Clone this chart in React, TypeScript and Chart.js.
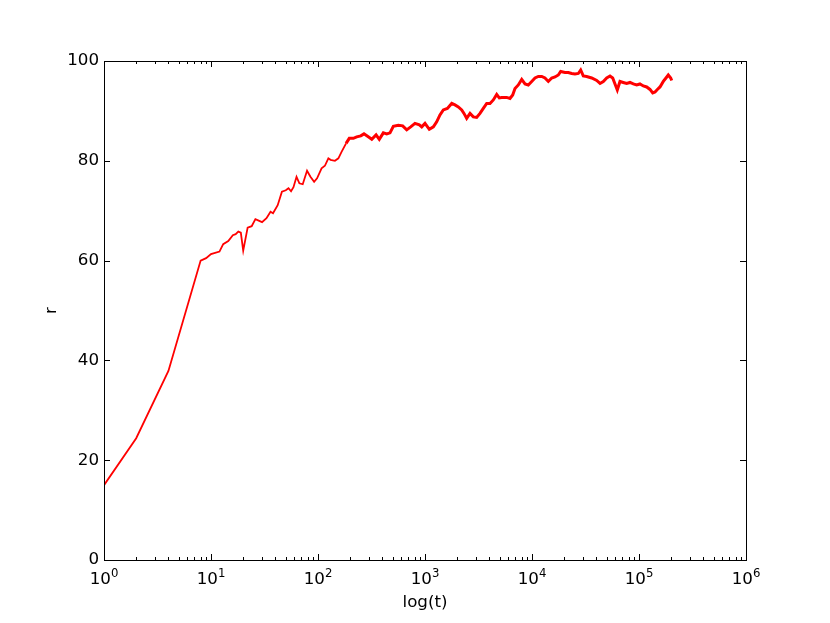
import { useEffect, useRef } from 'react';
import { Chart, registerables } from 'chart.js';

Chart.register(...registerables);

const times: number[] = [
  1, 2, 4, 8, 9, 10, 12, 13, 14.5, 16, 17, 18, 19, 20, 22, 24, 26, 30, 33, 36, 38, 42, 46, 50, 53, 56, 59, 63,
  67, 72, 79, 85, 92, 98, 108, 116, 125, 131, 144, 155, 166, 183, 196, 214, 230, 251, 269, 295, 318, 349, 374,
  408, 439, 471, 506, 563, 619, 675, 735, 806, 885, 932, 1000, 1097, 1197, 1286, 1380, 1483, 1618, 1778, 1906,
  2048, 2203, 2314, 2452, 2634, 2828, 3040, 3265, 3507, 3773, 4050, 4350, 4677, 4945, 5207, 5802, 6226, 6601,
  6935, 7449, 8015, 8605, 9233, 9937, 10670, 11460, 12330, 13220, 14200, 15280, 16410, 17620, 18540, 20340,
  21840, 23490, 25220, 27090, 28510, 30150, 32430, 36120, 40260, 43240, 46380, 49900, 53580, 56780, 59660,
  62690, 66410, 71290, 76690, 82350, 88470, 95110, 102100, 109700, 118000, 126700, 134300, 141200, 148400,
  157100, 168700, 178700, 187800, 197800, 202300,
];

const rValues: number[] = [
  15.0, 24.4, 37.9, 60.0, 60.5, 61.3, 61.8, 63.3, 63.9, 65.1, 65.3, 65.8, 65.6, 62.0, 66.6, 66.9, 68.3, 67.7,
  68.5, 69.8, 69.5, 71.1, 73.8, 74.1, 74.5, 73.9, 74.7, 76.8, 75.5, 75.3, 78.0, 76.8, 75.8, 76.5, 78.5, 79.0,
  80.5, 80.2, 80.0, 80.5, 81.8, 83.5, 84.5, 84.5, 84.8, 85.0, 85.4, 84.8, 84.3, 85.2, 84.3, 85.6, 85.4, 85.6,
  86.9, 87.1, 87.0, 86.2, 86.8, 87.5, 87.2, 86.8, 87.5, 86.3, 86.8, 87.8, 89.2, 90.2, 90.5, 91.5, 91.2, 90.8,
  90.2, 89.5, 88.5, 89.5, 88.8, 88.7, 89.5, 90.5, 91.5, 91.5, 92.2, 93.3, 92.6, 92.7, 92.7, 92.5, 93.2, 94.5,
  95.2, 96.3, 95.4, 95.2, 95.9, 96.6, 96.9, 96.9, 96.6, 95.9, 96.6, 96.8, 97.2, 97.9, 97.7, 97.7, 97.5, 97.4,
  97.5, 98.2, 97.0, 96.9, 96.6, 96.1, 95.5, 95.9, 96.6, 97.0, 96.6, 95.4, 94.2, 95.9, 95.7, 95.5, 95.7, 95.4,
  95.2, 95.4, 95.0, 94.8, 94.3, 93.6, 93.8, 94.3, 94.8, 95.9, 96.6, 97.2, 96.6, 96.1,
];

const yTicks: number[] = [0, 20, 40, 60, 80, 100];
const xDecades: number[] = [0, 1, 2, 3, 4, 5, 6];
const xTitle = 'log(t)';
const yTitle = 'r';

const FONT = 'DejaVu Sans';
const FS = 16.7;

const frameAndTicks = {
  id: 'frameAndTicks',
  afterDatasetsDraw(chart: any) {
    const { ctx, chartArea } = chart;
    const xs = chart.scales.x;
    const ys = chart.scales.y;
    const { left, right, top, bottom } = chartArea;
    ctx.save();
    ctx.strokeStyle = '#000';
    ctx.lineWidth = 1;
    ctx.beginPath();
    const major = 6;
    const minor = 3;
    xDecades.forEach((d) => {
      const px = Math.round(xs.getPixelForValue(Math.pow(10, d))) + 0.5;
      ctx.moveTo(px, bottom);
      ctx.lineTo(px, bottom - major);
      ctx.moveTo(px, top);
      ctx.lineTo(px, top + major);
      if (d < 6) {
        for (let m = 2; m <= 9; m++) {
          const mx = Math.round(xs.getPixelForValue(m * Math.pow(10, d))) + 0.5;
          ctx.moveTo(mx, bottom);
          ctx.lineTo(mx, bottom - minor);
          ctx.moveTo(mx, top);
          ctx.lineTo(mx, top + minor);
        }
      }
    });
    yTicks.forEach((v) => {
      const py = Math.round(ys.getPixelForValue(v)) + 0.5;
      ctx.moveTo(left, py);
      ctx.lineTo(left + major, py);
      ctx.moveTo(right, py);
      ctx.lineTo(right - major, py);
    });
    ctx.stroke();
    ctx.strokeRect(Math.round(left) + 0.5, Math.round(top) + 0.5, Math.round(right - left), Math.round(bottom - top));

    // x tick labels 10^n
    ctx.fillStyle = '#000';
    ctx.textBaseline = 'alphabetic';
    ctx.textAlign = 'left';
    const baseY = bottom + 24;
    xDecades.forEach((d) => {
      const px = xs.getPixelForValue(Math.pow(10, d));
      ctx.font = `${FS}px "${FONT}"`;
      const w1 = ctx.measureText('10').width;
      ctx.font = `${FS * 0.7}px "${FONT}"`;
      const exp = String(d);
      const w2 = ctx.measureText(exp).width;
      const start = px - (w1 + w2) / 2;
      ctx.font = `${FS}px "${FONT}"`;
      ctx.fillText('10', start, baseY);
      ctx.font = `${FS * 0.7}px "${FONT}"`;
      ctx.fillText(exp, start + w1, baseY - 7);
    });
    ctx.restore();
  },
};

export default function App() {
  const ref = useRef<HTMLCanvasElement | null>(null);

  useEffect(() => {
    document.body.style.margin = '0';
    const canvas = ref.current;
    if (!canvas) return;
    const points = times.map((t, i) => ({ x: t, y: rValues[i] }));
    const chart = new Chart(canvas, {
      type: 'line',
      data: {
        datasets: [
          {
            data: points,
            borderColor: '#ff0000',
            backgroundColor: '#ff0000',
            borderWidth: 1.8,
            pointRadius: 0,
            tension: 0,
            fill: false,
            segment: {
              borderWidth: (c: any) => (c.p0.parsed.x >= 180 ? 3 : 1.8),
            },
          },
        ],
      },
      options: {
        responsive: false,
        animation: false,
        devicePixelRatio: 1,
        layout: { padding: { top: 61, right: 84, left: 0, bottom: 0 } },
        plugins: { legend: { display: false }, tooltip: { enabled: false } },
        scales: {
          x: {
            type: 'logarithmic',
            min: 1,
            max: 1e6,
            grid: { display: false, drawTicks: false },
            border: { display: false },
            ticks: { display: false },
            afterFit: (s: any) => {
              s.height = 63;
            },
            title: {
              display: true,
              text: xTitle,
              color: '#000',
              font: { family: FONT, size: FS },
              padding: { top: 0, bottom: 10 },
            },
          },
          y: {
            type: 'linear',
            min: 0,
            max: 100,
            grid: { display: false, drawTicks: false },
            border: { display: false },
            afterBuildTicks: (s: any) => {
              s.ticks = yTicks.map((v) => ({ value: v }));
            },
            ticks: {
              color: '#000',
              padding: 5,
              font: { family: FONT, size: FS },
            },
            afterFit: (s: any) => {
              s.width = 104;
            },
            title: {
              display: true,
              text: yTitle,
              color: '#000',
              font: { family: FONT, size: FS },
              padding: { top: 42, bottom: 0 },
            },
          },
        },
      },
      plugins: [frameAndTicks],
    });
    return () => chart.destroy();
  }, []);

  return <canvas ref={ref} width={830} height={623} style={{ display: 'block', width: 830, height: 623 }} />;
}
